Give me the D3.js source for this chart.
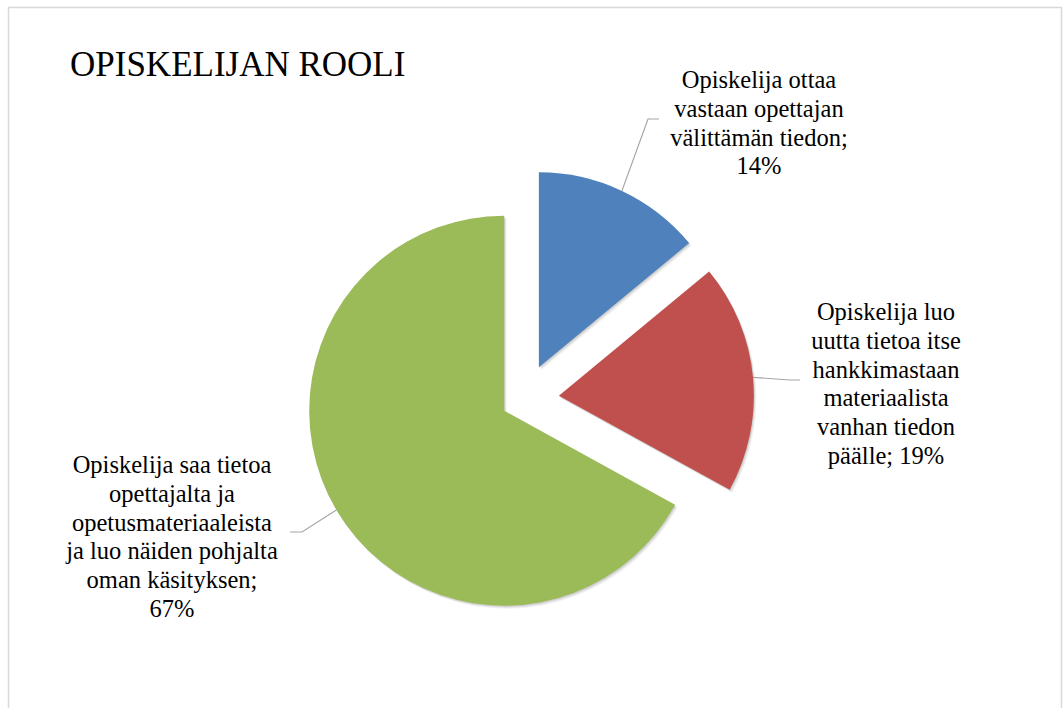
<!DOCTYPE html>
<html>
<head>
<meta charset="utf-8">
<script src="https://cdn.jsdelivr.net/npm/d3@7"></script>
</head>
<body style="margin:0">
<div id="chart" style="position:relative;width:1063px;height:708px"></div>
<script>
// data
const chartTitle = "OPISKELIJAN ROOLI";
const categories = [
  "Opiskelija ottaa vastaan opettajan välittämän tiedon",
  "Opiskelija luo uutta tietoa itse hankkimastaan materiaalista vanhan tiedon päälle",
  "Opiskelija saa tietoa opettajalta ja opetusmateriaaleista ja luo näiden pohjalta oman käsityksen"
];
const values = [14, 19, 67];
const labelLines = [
  ["Opiskelija ottaa", "vastaan opettajan", "välittämän tiedon;", "14%"],
  ["Opiskelija luo", "uutta tietoa itse", "hankkimastaan", "materiaalista", "vanhan tiedon", "päälle; 19%"],
  ["Opiskelija saa tietoa", "opettajalta ja", "opetusmateriaaleista", "ja luo näiden pohjalta", "oman käsityksen;", "67%"]
];
const colors = ["#4F81BD", "#C0504D", "#9BBB59"];

// layout
const chartW = 1063, chartH = 708;
const cx = 524, cy = 399, radius = 195;
const explode = [35, 35, 23];
const fontFam = "'Liberation Serif'";
const fontSize = 24.5, lineH = 28.8;
// label block: center x, first baseline, leader elbow, leader end
const labelPos = [
  { x: 759, y: 90,  elbow: [648, 119], end: [659, 119] },
  { x: 886, y: 322, elbow: [790, 380], end: [800, 380] },
  { x: 172, y: 475, elbow: [302, 532], end: [290, 532] }
];

const svg = d3.select("#chart").append("svg")
  .style("position", "absolute").style("left", "0px").style("top", "0px")
  .attr("width", chartW)
  .attr("height", chartH);

// chart border
svg.append("rect")
  .attr("x", 8.5).attr("y", 7.5)
  .attr("width", 1053).attr("height", 720)
  .attr("fill", "#fff")
  .attr("stroke", "#D9D9D9")
  .attr("stroke-width", 1.5);

const pie = d3.pie().sort(null).value(d => d);
const arcs = pie(values);
const arc = d3.arc().innerRadius(0).outerRadius(radius);

const g = svg.append("g").attr("transform", "translate(" + cx + "," + cy + ")");

// offset of each slice along its bisector
function offset(d, i) {
  const a = (d.startAngle + d.endAngle) / 2;
  return [explode[i] * Math.sin(a), -explode[i] * Math.cos(a)];
}

// soft shadow: a few faint copies shifted down-right
[[2.5, 3, 0.05], [1.5, 2, 0.07], [0.8, 1, 0.08]].forEach(s => {
  g.append("g").selectAll("path")
    .data(arcs)
    .enter()
    .append("path")
    .attr("d", arc)
    .attr("fill", "#000")
    .attr("fill-opacity", s[2])
    .attr("transform", (d, i) => {
      const o = offset(d, i);
      return "translate(" + (o[0] + s[0]) + "," + (o[1] + s[1]) + ")";
    });
});

g.selectAll("path.slice")
  .data(arcs)
  .enter()
  .append("path")
  .attr("class", "slice")
  .attr("d", arc)
  .attr("fill", (d, i) => colors[i])
  .attr("transform", (d, i) => "translate(" + offset(d, i) + ")");

// leader lines: from outer edge on the bisector to the label
g.selectAll("polyline.leader")
  .data(arcs)
  .enter()
  .append("polyline")
  .attr("class", "leader")
  .attr("fill", "none")
  .attr("stroke", "#A6A6A6")
  .attr("stroke-width", 1.2)
  .attr("points", (d, i) => {
    const a = (d.startAngle + d.endAngle) / 2;
    const o = offset(d, i);
    const p0 = [o[0] + radius * Math.sin(a), o[1] - radius * Math.cos(a)];
    const lp = labelPos[i];
    const p1 = [lp.elbow[0] - cx, lp.elbow[1] - cy];
    const p2 = [lp.end[0] - cx, lp.end[1] - cy];
    return [p0, p1, p2].map(p => p.join(",")).join(" ");
  });

// texts as HTML on top of the svg
const host = d3.select("#chart");

host.append("div")
  .style("position", "absolute")
  .style("left", "70px")
  .style("top", (78 - 35 * 0.891) + "px")
  .style("font-family", fontFam)
  .style("font-size", "35px")
  .style("line-height", "35px")
  .style("white-space", "nowrap")
  .style("color", "#000")
  .text(chartTitle);

labelLines.forEach((lines, i) => {
  const lp = labelPos[i];
  const box = host.append("div")
    .style("position", "absolute")
    .style("left", (lp.x - 150) + "px")
    .style("width", "300px")
    .style("top", (lp.y - fontSize * 0.891 - (lineH - fontSize) / 2) + "px")
    .style("text-align", "center")
    .style("font-family", fontFam)
    .style("font-size", fontSize + "px")
    .style("line-height", lineH + "px")
    .style("color", "#000");
  lines.forEach(line => {
    box.append("div").style("white-space", "nowrap").text(line);
  });
});
</script>
</body>
</html>
